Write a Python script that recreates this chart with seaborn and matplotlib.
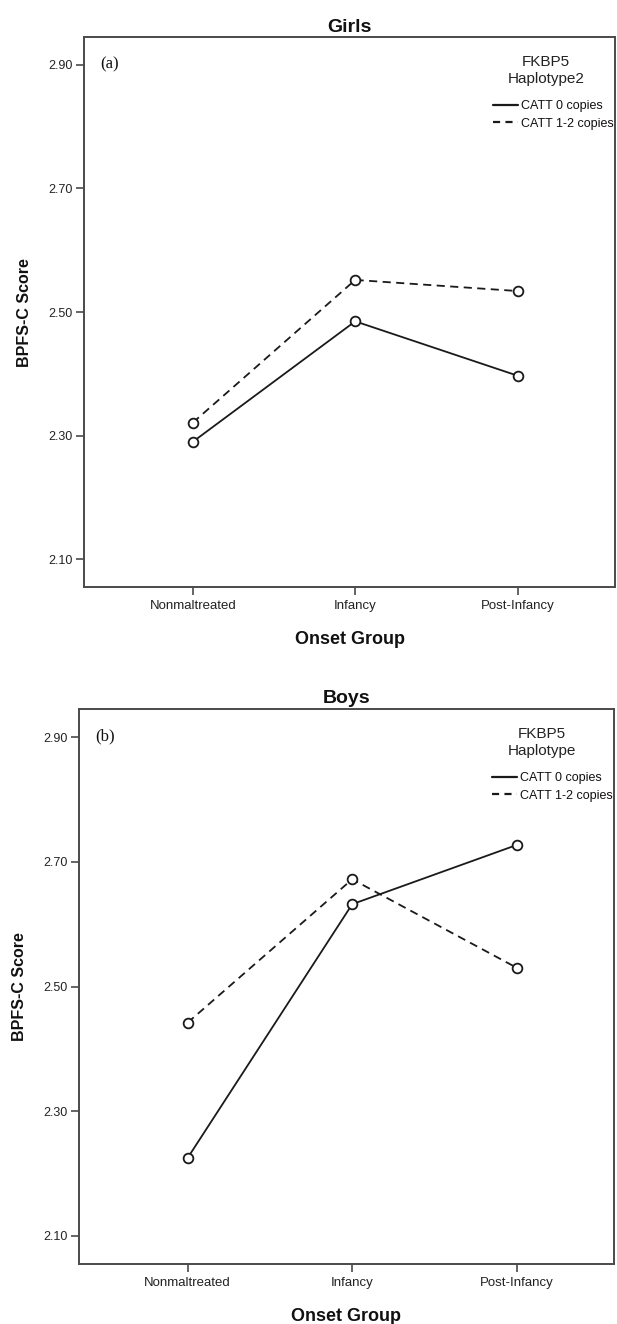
import numpy as np
import pandas as pd
import matplotlib
matplotlib.use("Agg")
import matplotlib.pyplot as plt
from matplotlib.lines import Line2D
from matplotlib.transforms import ScaledTranslation
import seaborn as sns

# ---- data ----
groups = ["Nonmaltreated", "Infancy", "Post-Infancy"]
series_names = ["CATT 0 copies", "CATT 1-2 copies"]
girls_catt0 = [2.290, 2.485, 2.397]
girls_catt12 = [2.321, 2.552, 2.534]
boys_catt0 = [2.225, 2.632, 2.727]
boys_catt12 = [2.442, 2.672, 2.530]
yticks = [2.10, 2.30, 2.50, 2.70, 2.90]

sns.set_theme(style="white")
plt.rcParams["font.family"] = ["Liberation Sans", "DejaVu Sans"]

INK = "#1a1a1a"
SPINE = "#4a4a4a"


def make_df(s0, s12):
    rows = []
    for g, v in zip(groups, s0):
        rows.append({"Onset": g, "Score": v, "Haplotype": series_names[0]})
    for g, v in zip(groups, s12):
        rows.append({"Onset": g, "Score": v, "Haplotype": series_names[1]})
    return pd.DataFrame(rows)


fig = plt.figure(figsize=(6.17, 13.24), dpi=100)
ax_top = fig.add_axes([0.136, 0.5566, 0.861, 0.4154])
ax_bot = fig.add_axes([0.128, 0.0453, 0.867, 0.4192])

panels = [
    (ax_top, make_df(girls_catt0, girls_catt12), "Girls", "(a)", ["FKBP5", "Haplotype2"], (-0.67, 2.60), 0.870),
    (ax_bot, make_df(boys_catt0, boys_catt12), "Boys", "(b)", ["FKBP5", "Haplotype"], (-0.66, 2.59), 0.865),
]

for ax, df, title, tag, ltitle, xl, lx in panels:
    sns.lineplot(
        data=df, x="Onset", y="Score", style="Haplotype",
        markers={series_names[0]: "o", series_names[1]: "o"},
        dashes={series_names[0]: "", series_names[1]: (4.5, 3)},
        color=INK, lw=1.3, markersize=7, markerfacecolor="white",
        markeredgecolor=INK, markeredgewidth=1.3,
        legend=False, sort=False, ax=ax,
    )
    ax.set_xlim(*xl)
    ax.set_ylim(2.055, 2.945)
    ax.set_yticks(yticks)
    ax.set_yticklabels([f"{t:.2f}" for t in yticks])
    ax.tick_params(axis="both", which="major", direction="out", length=6,
                   width=1.2, color=SPINE, labelsize=9, pad=2,
                   left=True, bottom=True, labelcolor="#222222")
    ax.tick_params(axis="x", labelsize=9.5, pad=3)
    for sp in ax.spines.values():
        sp.set_visible(True)
        sp.set_color(SPINE)
        sp.set_linewidth(1.4)
    ax.set_xlabel("Onset Group", fontsize=13, fontweight="bold", labelpad=14,
                  color="#111111")
    ax.set_ylabel("BPFS-C Score", fontsize=11.5, fontweight="bold", labelpad=12,
                  color="#111111")
    ax.set_title(title, fontsize=14, fontweight="bold", pad=4, color="#111111")
    ax.text(0.031, 0.95, tag, transform=ax.transAxes, fontsize=12,
            family=["Liberation Serif", "DejaVu Serif"], va="center", ha="left",
            color="#111111")

    # legend title lines
    for txt, off in zip(ltitle, [24.5, 41.5]):
        ax.text(lx, 1.0, txt, fontsize=11, ha="center", va="center", color="#222222",
                transform=ax.transAxes + ScaledTranslation(0, -off / 100, fig.dpi_scale_trans))

    ax_h_px = ax.get_position().height * fig.get_figheight() * fig.dpi
    handles = [
        Line2D([], [], color=INK, lw=1.6, linestyle="-"),
        Line2D([], [], color=INK, lw=1.6, dashes=(3.2, 2.4)),
    ]
    leg = ax.legend(handles, series_names, loc="upper right",
                    bbox_to_anchor=(0.997, 1 - 63.0 / ax_h_px), frameon=False,
                    fontsize=9, handlelength=2.0,
                    handletextpad=0.2, labelspacing=0.45, borderpad=0.0,
                    borderaxespad=0)
    for t in leg.get_texts():
        t.set_color("#111111")

fig.savefig("out.png", dpi=100, facecolor="white")
